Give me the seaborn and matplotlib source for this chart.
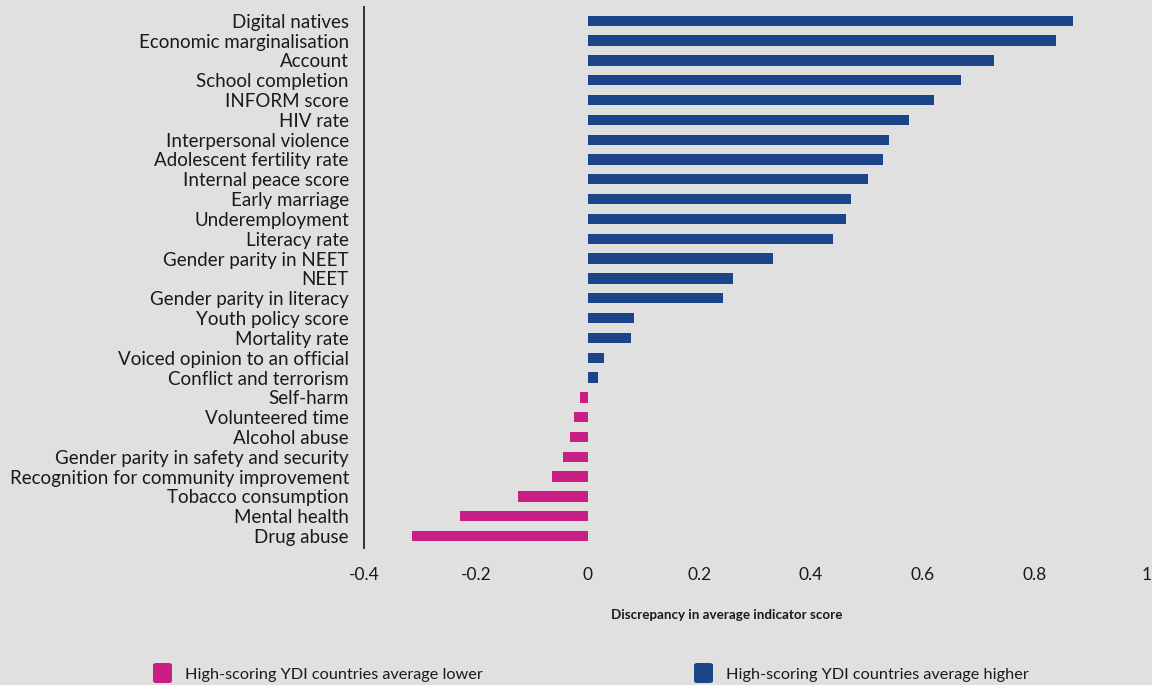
import numpy as np
import pandas as pd
import matplotlib
matplotlib.use('Agg')
import matplotlib.pyplot as plt
import seaborn as sns

indicators = ['Digital natives', 'Economic marginalisation', 'Account', 'School completion',
              'INFORM score', 'HIV rate', 'Interpersonal violence', 'Adolescent fertility rate',
              'Internal peace score', 'Early marriage', 'Underemployment', 'Literacy rate',
              'Gender parity in NEET', 'NEET', 'Gender parity in literacy', 'Youth policy score',
              'Mortality rate', 'Voiced opinion to an official', 'Conflict and terrorism',
              'Self-harm', 'Volunteered time', 'Alcohol abuse',
              'Gender parity in safety and security', 'Recognition for community improvement',
              'Tobacco consumption', 'Mental health', 'Drug abuse']
discrepancy = [0.869, 0.839, 0.728, 0.668, 0.620, 0.575, 0.539, 0.529, 0.502, 0.471,
               0.462, 0.439, 0.332, 0.260, 0.242, 0.084, 0.077, 0.030, 0.018,
               -0.013, -0.025, -0.032, -0.043, -0.063, -0.124, -0.229, -0.314]
xticks = [-0.4, -0.2, 0, 0.2, 0.4, 0.6, 0.8, 1]
xtick_labels = ['-0.4', '-0.2', '0', '0.2', '0.4', '0.6', '0.8', '1']

lower_lbl = 'High-scoring YDI countries average lower'
higher_lbl = 'High-scoring YDI countries average higher'
pink = '#c91f84'
blue = '#1c4589'
bg = '#e0e0e0'

df = pd.DataFrame({'indicator': indicators, 'value': discrepancy})
df['group'] = np.where(df['value'] < 0, lower_lbl, higher_lbl)

sns.set_style('white')
plt.rcParams['font.family'] = ['Lato', 'DejaVu Sans']

fig = plt.figure(figsize=(11.52, 6.85), dpi=100, facecolor=bg)
ax = fig.add_axes([0.316, 0.200, 0.679, 0.790])
ax.set_facecolor(bg)

sns.barplot(data=df, x='value', y='indicator', hue='group', orient='h',
            palette={lower_lbl: pink, higher_lbl: blue}, dodge=False, width=0.52,
            hue_order=[lower_lbl, higher_lbl], saturation=1, linewidth=0,
            ax=ax, legend=False)

ax.set_xlim(-0.4, 1.0)
ax.set_ylim(26.6, -0.7)
ax.set_xticks(xticks)
ax.set_xticklabels(xtick_labels, fontsize=12.5, color='#1a1a1a')
ax.tick_params(axis='x', length=0, pad=14)
ax.tick_params(axis='y', length=0, pad=11, labelsize=13.5, labelcolor='#1a1a1a')
ax.set_xlabel('')
ax.set_ylabel('')
for s in ['top', 'right', 'bottom']:
    ax.spines[s].set_visible(False)
ax.spines['left'].set_color('#333333')
ax.spines['left'].set_linewidth(1.4)

fig.text(727 / 1152, 1 - 615 / 685, 'Discrepancy in average indicator score',
         ha='center', va='center', fontsize=9.6, fontweight='bold', color='#1a1a1a')

# legend
for px, col, lbl in [(162, pink, lower_lbl), (703, blue, higher_lbl)]:
    fig.patches.append(matplotlib.patches.FancyBboxPatch(
        ((px - 9) / 1152, 1 - 683 / 685), 19 / 1152, 20 / 685,
        boxstyle='round,pad=0,rounding_size=0.003', transform=fig.transFigure,
        facecolor=col, edgecolor='none'))
    fig.text((px + 23) / 1152, 1 - 675 / 685, lbl, ha='left', va='center',
             fontsize=11.7, color='#1a1a1a')

fig.savefig('out.png', dpi=100, facecolor=bg)
